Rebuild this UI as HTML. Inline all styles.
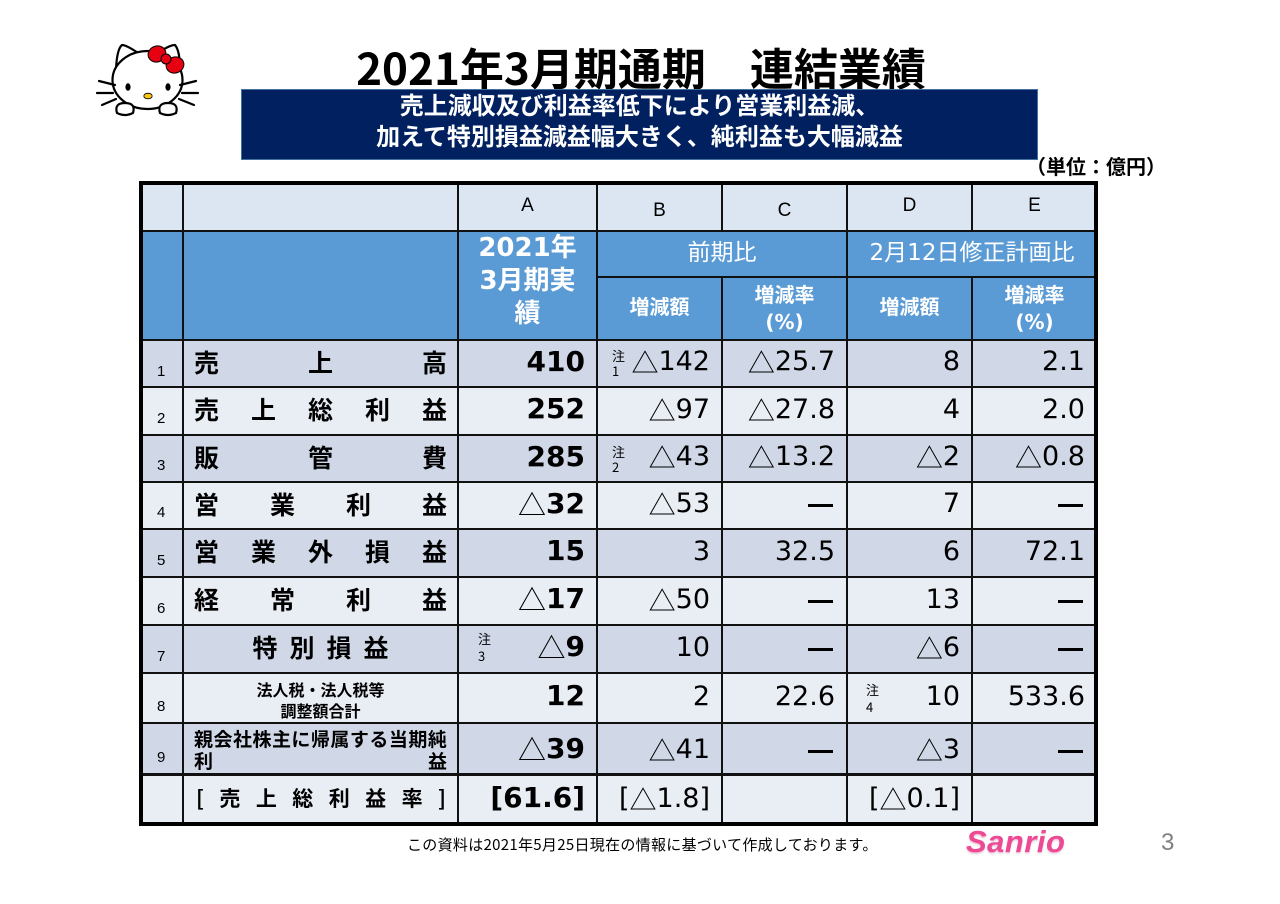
<!DOCTYPE html>
<html lang="ja">
<head>
<meta charset="utf-8">
<style>
html,body{margin:0;padding:0;background:#fff;}
#pg{position:relative;width:1280px;height:904px;overflow:hidden;background:#fff;}
.a{position:absolute;}
.nj{font-family:"Noto Sans CJK JP","Liberation Sans",sans-serif;}
.t{font-family:"Noto Sans CJK JP",sans-serif;}
.hl{position:absolute;left:140px;width:957px;height:2px;background:#111;}
.vl{position:absolute;width:2px;background:#111;}
.cell{position:absolute;display:flex;align-items:center;justify-content:flex-end;box-sizing:border-box;padding-right:12px;padding-bottom:4px;font-family:"DejaVu Sans","Noto Sans CJK JP",sans-serif;font-size:27px;line-height:1;color:#000;white-space:nowrap;}
.cell.b{font-weight:bold;font-size:28px;}
.dash{display:inline-block;width:25px;height:3px;background:#000;margin-top:4px;margin-right:2px;}
.lab{position:absolute;left:194px;width:253px;display:flex;align-items:center;justify-content:space-between;box-sizing:border-box;padding-bottom:3px;font-family:"Noto Sans CJK JP",sans-serif;font-weight:bold;font-size:25px;line-height:1;color:#000;}
.num{position:absolute;left:157px;font-family:"Liberation Sans",sans-serif;font-size:15px;line-height:1;color:#000;}
.note{position:absolute;font-family:"Noto Sans CJK JP",sans-serif;font-size:13px;line-height:15px;color:#000;}
.hdr{position:absolute;text-align:center;font-family:"Liberation Sans",sans-serif;font-size:19px;line-height:1;color:#000;}
.wh{position:absolute;text-align:center;color:#fff;font-family:"DejaVu Sans","Noto Sans CJK JP",sans-serif;line-height:1;}
</style>
</head>
<body>
<div id="pg">

<!-- Hello Kitty -->
<svg class="a" style="left:95px;top:37px" width="110" height="90" viewBox="0 0 110 90">
  <g stroke="#000" stroke-width="2.2" fill="#fff" stroke-linejoin="round" stroke-linecap="round">
    <path d="M21 32 Q22 12 27 8 Q32 8 46 18 Z"/>
    <path d="M60 18 Q74 8 80 8 Q85 14 85 32 Z"/>
    <ellipse cx="52.5" cy="43" rx="35" ry="29"/>
    <path d="M22 76 q-3 -10 8 -10 q11 0 8 10 q-8 4 -16 0 Z"/>
    <path d="M65 76 q-3 -10 8 -10 q11 0 8 10 q-8 4 -16 0 Z"/>
    <line x1="4" y1="44" x2="20" y2="48"/>
    <line x1="2" y1="56" x2="18" y2="56"/>
    <line x1="7" y1="68" x2="21" y2="62"/>
    <line x1="85" y1="48" x2="101" y2="44"/>
    <line x1="87" y1="56" x2="103" y2="56"/>
    <line x1="84" y1="62" x2="99" y2="68"/>
  </g>
  <g fill="#e60012" stroke="#000" stroke-width="1">
    <ellipse cx="62" cy="17" rx="9" ry="8" transform="rotate(-20 62 17)"/>
    <ellipse cx="80" cy="28" rx="9" ry="8" transform="rotate(-20 80 28)"/>
    <circle cx="71" cy="22" r="5"/>
  </g>
  <ellipse cx="33" cy="50" rx="2.6" ry="3.8" fill="#000"/>
  <ellipse cx="73" cy="50" rx="2.6" ry="3.8" fill="#000"/>
  <ellipse cx="53" cy="59" rx="4.2" ry="2.8" fill="#f5c518" stroke="#000" stroke-width="0.8"/>
</svg>

<!-- Title -->
<div class="a nj" style="left:0;top:44px;width:1282px;text-align:center;font-size:44px;font-weight:bold;line-height:1;color:#000;">2021年3月期通期　連結業績</div>
<div class="a" style="left:241px;top:89px;width:797px;height:71px;background:#002060;box-sizing:border-box;border:1px solid #41719c;"></div>
<div class="a nj" style="left:241px;top:88px;width:797px;text-align:center;font-size:24px;font-weight:bold;line-height:31px;color:#fff;">売上減収及び利益率低下により営業利益減、<br>加えて特別損益減益幅大きく、純利益も大幅減益</div>
<div class="a nj" style="left:1020px;top:156px;width:146px;text-align:right;font-size:20px;font-weight:bold;line-height:1;color:#000;">（単位：億円）</div>

<!-- Table backgrounds -->
<div class="a" style="left:140px;top:183px;width:957px;height:48px;background:#dce6f2"></div>
<div class="a" style="left:140px;top:231px;width:957px;height:109px;background:#5b9bd5"></div>
<div class="a" style="left:140px;top:340px;width:957px;height:47px;background:#d0d8e8"></div>
<div class="a" style="left:140px;top:387px;width:957px;height:48px;background:#e9edf4"></div>
<div class="a" style="left:140px;top:435px;width:957px;height:47px;background:#d0d8e8"></div>
<div class="a" style="left:140px;top:482px;width:957px;height:47px;background:#e9edf4"></div>
<div class="a" style="left:140px;top:529px;width:957px;height:48px;background:#d0d8e8"></div>
<div class="a" style="left:140px;top:577px;width:957px;height:48px;background:#e9edf4"></div>
<div class="a" style="left:140px;top:625px;width:957px;height:48px;background:#d0d8e8"></div>
<div class="a" style="left:140px;top:673px;width:957px;height:50px;background:#e9edf4"></div>
<div class="a" style="left:140px;top:723px;width:957px;height:52px;background:#d0d8e8"></div>
<div class="a" style="left:140px;top:775px;width:957px;height:50px;background:#e9edf4"></div>

<!-- Lines -->
<div class="hl" style="top:230px"></div>
<div class="hl" style="top:276px;left:597px;width:500px"></div>
<div class="hl" style="top:339px"></div>
<div class="hl" style="top:386px"></div>
<div class="hl" style="top:434px"></div>
<div class="hl" style="top:481px"></div>
<div class="hl" style="top:528px"></div>
<div class="hl" style="top:576px"></div>
<div class="hl" style="top:624px"></div>
<div class="hl" style="top:672px"></div>
<div class="hl" style="top:722px"></div>
<div class="hl" style="top:773px;height:3px"></div>

<div class="vl" style="left:182px;top:183px;height:642px"></div>
<div class="vl" style="left:457px;top:183px;height:642px"></div>
<div class="vl" style="left:596px;top:183px;height:642px"></div>
<div class="vl" style="left:721px;top:183px;height:48px"></div>
<div class="vl" style="left:721px;top:277px;height:548px"></div>
<div class="vl" style="left:846px;top:183px;height:642px"></div>
<div class="vl" style="left:971px;top:183px;height:48px"></div>
<div class="vl" style="left:971px;top:277px;height:548px"></div>

<div class="a" style="left:139px;top:181px;width:959px;height:645px;border:4px solid #000;box-sizing:border-box;"></div>

<!-- Header letters -->
<div class="hdr" style="left:458px;width:139px;top:196px">A</div>
<div class="hdr" style="left:597px;width:125px;top:201px">B</div>
<div class="hdr" style="left:722px;width:125px;top:201px">C</div>
<div class="hdr" style="left:847px;width:125px;top:196px">D</div>
<div class="hdr" style="left:972px;width:125px;top:196px">E</div>

<!-- Blue header -->
<div class="wh" style="left:458px;width:139px;top:232px;font-size:26px;font-weight:bold;line-height:33px;">2021年<br>3月期実<br>績</div>
<div class="wh" style="left:597px;width:250px;top:242px;font-size:23px;">前期比</div>
<div class="wh" style="left:847px;width:250px;top:242px;font-size:23px;">2月12日修正計画比</div>
<div class="wh" style="left:597px;width:125px;top:297px;font-size:20px;font-weight:bold;">増減額</div>
<div class="wh" style="left:847px;width:125px;top:297px;font-size:20px;font-weight:bold;">増減額</div>
<div class="wh" style="left:722px;width:125px;top:282px;font-size:20px;font-weight:bold;line-height:27px;">増減率<br>(%)</div>
<div class="wh" style="left:972px;width:125px;top:282px;font-size:20px;font-weight:bold;line-height:27px;">増減率<br>(%)</div>

<!-- Row numbers -->
<div class="num" style="top:364px">1</div>
<div class="num" style="top:411px">2</div>
<div class="num" style="top:458px">3</div>
<div class="num" style="top:505px">4</div>
<div class="num" style="top:553px">5</div>
<div class="num" style="top:601px">6</div>
<div class="num" style="top:649px">7</div>
<div class="num" style="top:699px">8</div>
<div class="num" style="top:750px">9</div>

<!-- Row labels -->
<div class="lab" style="top:340px;height:47px"><span>売</span><span>上</span><span>高</span></div>
<div class="lab" style="top:387px;height:48px"><span>売</span><span>上</span><span>総</span><span>利</span><span>益</span></div>
<div class="lab" style="top:435px;height:47px"><span>販</span><span>管</span><span>費</span></div>
<div class="lab" style="top:482px;height:47px"><span>営</span><span>業</span><span>利</span><span>益</span></div>
<div class="lab" style="top:529px;height:48px"><span>営</span><span>業</span><span>外</span><span>損</span><span>益</span></div>
<div class="lab" style="top:577px;height:48px"><span>経</span><span>常</span><span>利</span><span>益</span></div>
<div class="lab" style="top:625px;height:48px;left:183px;width:275px;justify-content:center;gap:12px;"><span>特</span><span>別</span><span>損</span><span>益</span></div>
<div class="a nj" style="left:183px;width:275px;top:679px;text-align:center;font-size:16px;font-weight:bold;line-height:21px;color:#000;">法人税・法人税等<br>調整額合計</div>
<div class="lab" style="top:727px;height:22px;font-size:19px;padding-bottom:0"><span>親</span><span>会</span><span>社</span><span>株</span><span>主</span><span>に</span><span>帰</span><span>属</span><span>す</span><span>る</span><span>当</span><span>期</span><span>純</span></div>
<div class="lab" style="top:749px;height:22px;font-size:19px;padding-bottom:0"><span>利</span><span>益</span></div>
<div class="lab" style="top:775px;height:50px;font-size:21px;left:196px;width:250px"><span>[</span><span>売</span><span>上</span><span>総</span><span>利</span><span>益</span><span>率</span><span>]</span></div>

<!-- Notes -->
<div class="note" style="left:612px;top:348px">注<br>1</div>
<div class="note" style="left:612px;top:444px">注<br>2</div>
<div class="note" style="left:478px;top:630px;line-height:17px">注<br>3</div>
<div class="note" style="left:866px;top:681px;line-height:17px">注<br>4</div>

<!-- Row 1 -->
<div class="cell b" style="left:458px;width:139px;top:340px;height:47px">410</div>
<div class="cell" style="left:597px;width:125px;top:340px;height:47px"><span class="t">△</span>142</div>
<div class="cell" style="left:722px;width:125px;top:340px;height:47px"><span class="t">△</span>25.7</div>
<div class="cell" style="left:847px;width:125px;top:340px;height:47px">8</div>
<div class="cell" style="left:972px;width:125px;top:340px;height:47px">2.1</div>
<!-- Row 2 -->
<div class="cell b" style="left:458px;width:139px;top:387px;height:48px">252</div>
<div class="cell" style="left:597px;width:125px;top:387px;height:48px"><span class="t">△</span>97</div>
<div class="cell" style="left:722px;width:125px;top:387px;height:48px"><span class="t">△</span>27.8</div>
<div class="cell" style="left:847px;width:125px;top:387px;height:48px">4</div>
<div class="cell" style="left:972px;width:125px;top:387px;height:48px">2.0</div>
<!-- Row 3 -->
<div class="cell b" style="left:458px;width:139px;top:435px;height:47px">285</div>
<div class="cell" style="left:597px;width:125px;top:435px;height:47px"><span class="t">△</span>43</div>
<div class="cell" style="left:722px;width:125px;top:435px;height:47px"><span class="t">△</span>13.2</div>
<div class="cell" style="left:847px;width:125px;top:435px;height:47px"><span class="t">△</span>2</div>
<div class="cell" style="left:972px;width:125px;top:435px;height:47px"><span class="t">△</span>0.8</div>
<!-- Row 4 -->
<div class="cell b" style="left:458px;width:139px;top:482px;height:47px"><span class="t" style="font-weight:normal">△</span>32</div>
<div class="cell" style="left:597px;width:125px;top:482px;height:47px"><span class="t">△</span>53</div>
<div class="cell" style="left:722px;width:125px;top:482px;height:47px"><span class="dash"></span></div>
<div class="cell" style="left:847px;width:125px;top:482px;height:47px">7</div>
<div class="cell" style="left:972px;width:125px;top:482px;height:47px"><span class="dash"></span></div>
<!-- Row 5 -->
<div class="cell b" style="left:458px;width:139px;top:529px;height:48px">15</div>
<div class="cell" style="left:597px;width:125px;top:529px;height:48px">3</div>
<div class="cell" style="left:722px;width:125px;top:529px;height:48px">32.5</div>
<div class="cell" style="left:847px;width:125px;top:529px;height:48px">6</div>
<div class="cell" style="left:972px;width:125px;top:529px;height:48px">72.1</div>
<!-- Row 6 -->
<div class="cell b" style="left:458px;width:139px;top:577px;height:48px"><span class="t" style="font-weight:normal">△</span>17</div>
<div class="cell" style="left:597px;width:125px;top:577px;height:48px"><span class="t">△</span>50</div>
<div class="cell" style="left:722px;width:125px;top:577px;height:48px"><span class="dash"></span></div>
<div class="cell" style="left:847px;width:125px;top:577px;height:48px">13</div>
<div class="cell" style="left:972px;width:125px;top:577px;height:48px"><span class="dash"></span></div>
<!-- Row 7 -->
<div class="cell b" style="left:458px;width:139px;top:625px;height:48px"><span class="t" style="font-weight:normal">△</span>9</div>
<div class="cell" style="left:597px;width:125px;top:625px;height:48px">10</div>
<div class="cell" style="left:722px;width:125px;top:625px;height:48px"><span class="dash"></span></div>
<div class="cell" style="left:847px;width:125px;top:625px;height:48px"><span class="t">△</span>6</div>
<div class="cell" style="left:972px;width:125px;top:625px;height:48px"><span class="dash"></span></div>
<!-- Row 8 -->
<div class="cell b" style="left:458px;width:139px;top:673px;height:50px">12</div>
<div class="cell" style="left:597px;width:125px;top:673px;height:50px">2</div>
<div class="cell" style="left:722px;width:125px;top:673px;height:50px">22.6</div>
<div class="cell" style="left:847px;width:125px;top:673px;height:50px">10</div>
<div class="cell" style="left:972px;width:125px;top:673px;height:50px">533.6</div>
<!-- Row 9 -->
<div class="cell b" style="left:458px;width:139px;top:723px;height:52px;padding-bottom:0"><span class="t" style="font-weight:normal">△</span>39</div>
<div class="cell" style="left:597px;width:125px;top:723px;height:52px;padding-bottom:0"><span class="t">△</span>41</div>
<div class="cell" style="left:722px;width:125px;top:723px;height:52px;padding-bottom:0"><span class="dash"></span></div>
<div class="cell" style="left:847px;width:125px;top:723px;height:52px;padding-bottom:0"><span class="t">△</span>3</div>
<div class="cell" style="left:972px;width:125px;top:723px;height:52px;padding-bottom:0"><span class="dash"></span></div>
<!-- Row 10 -->
<div class="cell b" style="left:458px;width:139px;top:775px;height:50px">[61.6]</div>
<div class="cell" style="left:597px;width:125px;top:775px;height:50px">[<span class="t">△</span>1.8]</div>
<div class="cell" style="left:847px;width:125px;top:775px;height:50px">[<span class="t">△</span>0.1]</div>

<!-- Footer -->
<div class="a nj" style="left:407px;top:837px;font-size:15px;line-height:1;letter-spacing:0.3px;color:#000;white-space:nowrap;">この資料は2021年5月25日現在の情報に基づいて作成しております。</div>
<div class="a" style="left:966px;top:826px;font-family:'Liberation Sans',sans-serif;font-weight:bold;font-style:italic;font-size:31px;line-height:1;color:#ec4a94;letter-spacing:0.5px;text-shadow:0 1px 0 #f9b8d6,0 2px 2px #e0e0e0;">Sanrio</div>
<div class="a" style="left:1161px;top:831px;font-family:'Liberation Sans',sans-serif;font-size:24px;line-height:1;color:#808080;">3</div>

</div>
</body>
</html>
